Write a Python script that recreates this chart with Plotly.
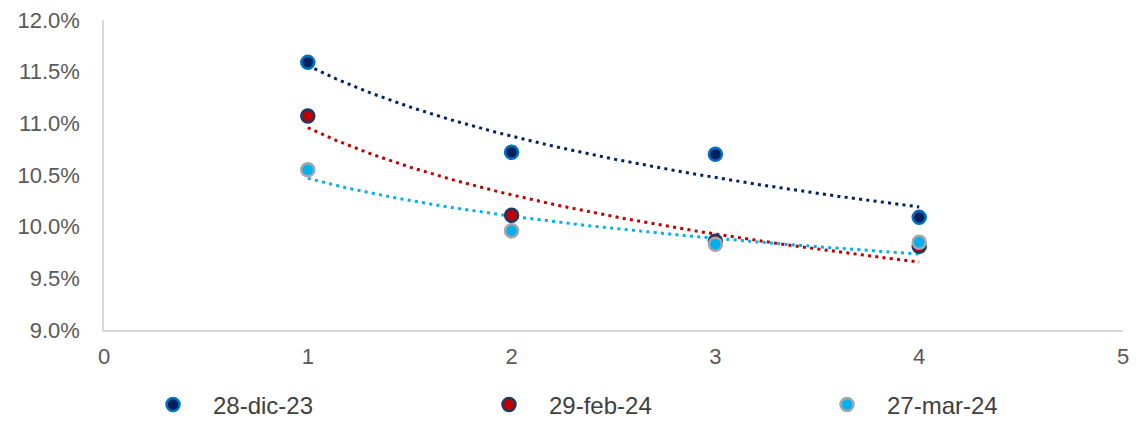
import numpy as np
import plotly.graph_objects as go

# ---- data ----
x_years = [1, 2, 3, 4]
series_names = ["28-dic-23", "29-feb-24", "27-mar-24"]
dic23 = [11.59, 10.72, 10.70, 10.09]
feb24 = [11.07, 10.11, 9.86, 9.81]
mar24 = [10.55, 9.96, 9.83, 9.85]

y_ticks = [9.0, 9.5, 10.0, 10.5, 11.0, 11.5, 12.0]
x_ticks = [0, 1, 2, 3, 4, 5]

fill_colors = ["#002060", "#C00000", "#00B0F0"]
edge_colors = ["#0070C0", "#1F3864", "#A6A6A6"]
trend_colors = ["#002060", "#C00000", "#00B0F0"]

legend_ids = ["legend", "legend2", "legend3"]

# page has an 8px body margin, so the figure is drawn 8px smaller/shifted
FIG_W, FIG_H = 1132, 417
legend_left = [125, 461, 799]  # left edge of each legend entry (figure px)

fig = go.Figure()

all_series = [dic23, feb24, mar24]

# logarithmic trend lines (least-squares fit on ln(x), as Excel does)
xs = np.linspace(min(x_years), max(x_years), 200)
for vals, col in zip(all_series, trend_colors):
    b, a = np.polyfit(np.log(x_years), vals, 1)
    fig.add_trace(go.Scatter(
        x=xs, y=a + b * np.log(xs), mode="lines",
        line=dict(color=col, width=3, dash="3px,4.3px"),
        showlegend=False, hoverinfo="skip"))

for name, vals, fc, ec, lg in zip(series_names, all_series, fill_colors, edge_colors, legend_ids):
    fig.add_trace(go.Scatter(
        x=x_years, y=vals, mode="markers", name=name, legend=lg,
        marker=dict(size=13, color=fc, line=dict(color=ec, width=2.5))))

font_family = "Liberation Sans, Arial, sans-serif"

legend_common = dict(
    orientation="h", xref="container", yref="container",
    xanchor="left", yanchor="middle", y=1 - 397 / FIG_H,
    font=dict(size=24, color="#404040", family=font_family),
    bgcolor="rgba(0,0,0,0)", itemwidth=70)

fig.update_layout(
    width=FIG_W, height=FIG_H,
    margin=dict(l=96, r=17, t=12, b=95, autoexpand=False),
    paper_bgcolor="white", plot_bgcolor="white",
    font=dict(family=font_family, color="#595959"),
    showlegend=True,
    legend=dict(x=legend_left[0] / FIG_W, **legend_common),
    legend2=dict(x=legend_left[1] / FIG_W, **legend_common),
    legend3=dict(x=legend_left[2] / FIG_W, **legend_common),
)

fig.update_xaxes(
    range=[0, 5], tickvals=x_ticks, ticktext=[str(v) for v in x_ticks],
    showgrid=False, zeroline=False, showline=True, linecolor="#D9D9D9", linewidth=1.5,
    ticks="", ticklabelstandoff=6, tickfont=dict(size=22, color="#595959"),
    ticklabeloverflow="allow", automargin=False)

fig.update_yaxes(
    range=[9, 12], tickvals=y_ticks, ticktext=[f"{v:.1f}%" for v in y_ticks],
    showgrid=False, zeroline=False, showline=True, linecolor="#D9D9D9", linewidth=1.5,
    ticks="", ticklabelstandoff=18, tickfont=dict(size=22, color="#595959"),
    ticklabeloverflow="allow", automargin=False)

fig.write_html("out.html")
